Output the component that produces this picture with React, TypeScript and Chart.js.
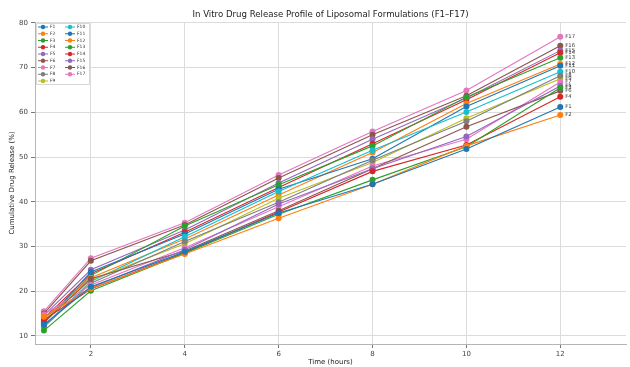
import React, { useEffect, useRef } from "react";
import { Chart, registerables } from "chart.js";

Chart.register(...registerables);

const times = [1, 2, 4, 6, 8, 10, 12];
const xTicks = [2, 4, 6, 8, 10, 12];
const yTicks = [10, 20, 30, 40, 50, 60, 70, 80];
const names = ["F1","F2","F3","F4","F5","F6","F7","F8","F9","F10","F11","F12","F13","F14","F15","F16","F17"];
const colors = ["#1f77b4","#ff7f0e","#2ca02c","#d62728","#9467bd","#8c564b","#e377c2","#7f7f7f","#bcbd22","#17becf","#1f77b4","#ff7f0e","#2ca02c","#d62728","#9467bd","#8c564b","#e377c2"];

const F1 = [12.5, 21.0, 28.8, 37.5, 43.9, 51.8, 61.2];
const F2 = [14.3, 20.6, 28.3, 36.3, 43.9, 52.5, 59.4];
const F3 = [11.2, 20.1, 28.5, 37.2, 44.9, 52.3, 65.5];
const F4 = [13.6, 20.5, 28.6, 37.7, 46.8, 52.7, 63.5];
const F5 = [14.2, 20.8, 29.3, 39.5, 47.4, 54.6, 65.9];
const F6 = [13.0, 22.8, 29.0, 38.0, 47.4, 56.8, 64.8];
const F7 = [14.8, 21.4, 29.7, 38.9, 48.0, 54.0, 66.8];
const F8 = [12.0, 21.8, 31.1, 39.9, 49.3, 58.0, 68.2];
const F9 = [13.5, 22.5, 30.6, 40.8, 48.8, 58.7, 67.5];
const F10 = [12.3, 22.2, 32.2, 42.3, 51.5, 60.1, 69.1];
const F11 = [12.8, 24.3, 32.8, 42.8, 49.6, 61.3, 70.4];
const F12 = [13.8, 23.0, 31.7, 41.5, 51.0, 62.0, 70.8];
const F13 = [13.2, 23.5, 34.6, 43.8, 52.5, 63.4, 72.2];
const F14 = [14.0, 23.9, 33.2, 43.2, 53.0, 62.8, 73.3];
const F15 = [14.6, 24.8, 33.7, 44.2, 54.0, 63.2, 73.8];
const F16 = [15.0, 26.8, 34.8, 45.3, 55.0, 63.7, 74.9];
const F17 = [15.5, 27.4, 35.3, 46.0, 55.7, 64.9, 76.9];

const series = [F1, F2, F3, F4, F5, F6, F7, F8, F9, F10, F11, F12, F13, F14, F15, F16, F17];

const FONT = "'DejaVu Sans', sans-serif";

const overlay = {
  id: "overlay",
  afterDraw(chart: any) {
    const ctx = chart.ctx;
    const area = chart.chartArea;
    ctx.save();
    ctx.fillStyle = "#222";
    ctx.font = `8.6px ${FONT}`;
    ctx.textAlign = "center";
    ctx.textBaseline = "alphabetic";
    ctx.fillText("In Vitro Drug Release Profile of Liposomal Formulations (F1\u2013F17)", (area.left + area.right) / 2, 17);
    ctx.font = `7px ${FONT}`;
    ctx.fillText("Time (hours)", (area.left + area.right) / 2, 364);
    ctx.save();
    ctx.translate(12, (area.top + area.bottom) / 2);
    ctx.rotate(-Math.PI / 2);
    ctx.textBaseline = "middle";
    ctx.fillText("Cumulative Drug Release (%)", 0, 0);
    ctx.restore();
    ctx.font = `5.3px ${FONT}`;
    ctx.textAlign = "left";
    ctx.textBaseline = "middle";
    ctx.fillStyle = "#333";
    chart.data.datasets.forEach((ds: any, i: number) => {
      const meta = chart.getDatasetMeta(i);
      const pt = meta.data[meta.data.length - 1];
      ctx.fillText(ds.label, pt.x + 5, pt.y);
    });
    const bx = 36, by = 23, bw = 53, bh = 61;
    ctx.fillStyle = "rgba(255,255,255,0.85)";
    ctx.strokeStyle = "#d8d8d8";
    ctx.lineWidth = 1;
    ctx.beginPath();
    ctx.rect(bx + 0.5, by + 0.5, bw, bh);
    ctx.fill();
    ctx.stroke();
    chart.data.datasets.forEach((ds: any, i: number) => {
      const col = i < 9 ? 0 : 1;
      const row = i < 9 ? i : i - 9;
      const mx = col === 0 ? 43 : 70;
      const y = 27 + row * 6.75;
      ctx.strokeStyle = ds.borderColor;
      ctx.lineWidth = 1;
      ctx.beginPath();
      ctx.moveTo(mx - 5, y);
      ctx.lineTo(mx + 5, y);
      ctx.stroke();
      ctx.fillStyle = ds.borderColor;
      ctx.beginPath();
      ctx.arc(mx, y, 2.2, 0, Math.PI * 2);
      ctx.fill();
      ctx.fillStyle = "#333";
      ctx.font = `4.5px ${FONT}`;
      ctx.fillText(ds.label, mx + 7, y);
    });
    ctx.restore();
  },
};

export default function App() {
  const ref = useRef<HTMLCanvasElement | null>(null);
  useEffect(() => {
    document.body.style.margin = "0";
    const canvas = ref.current!;
    const chart = new Chart(canvas, {
      type: "line",
      data: {
        datasets: series.map((vals, i) => ({
          label: names[i],
          data: times.map((t, j) => ({ x: t, y: vals[j] })),
          borderColor: colors[i],
          backgroundColor: colors[i],
          borderWidth: 1.1,
          pointRadius: 3,
          pointBorderWidth: 0,
          pointBackgroundColor: colors[i],
          fill: false,
          tension: 0,
        })),
      },
      options: {
        animation: false,
        responsive: false,
        events: [],
        layout: { padding: { top: 22, right: 2, left: 0, bottom: 0 } },
        plugins: { legend: { display: false }, title: { display: false }, tooltip: { enabled: false } },
        scales: {
          x: {
            type: "linear",
            min: 0.81,
            max: 13.4,
            afterBuildTicks: (s: any) => { s.ticks = xTicks.map((v) => ({ value: v })); },
            afterFit: (s: any) => { s.height = 23; },
            grid: { color: "#dcdcdc", tickLength: 4, tickColor: "#777" },
            border: { color: "#b5b5b5" },
            ticks: { font: { family: FONT, size: 7 }, color: "#444", padding: 2, maxRotation: 0 },
          },
          y: {
            type: "linear",
            min: 8.2,
            max: 80.2,
            afterBuildTicks: (s: any) => { s.ticks = yTicks.map((v) => ({ value: v })); },
            afterFit: (s: any) => { s.width = 35; },
            grid: { color: "#dcdcdc", tickLength: 4, tickColor: "#777" },
            border: { color: "#b5b5b5" },
            ticks: { font: { family: FONT, size: 7 }, color: "#444", padding: 3 },
          },
        },
      },
      plugins: [overlay],
    } as any);
    return () => chart.destroy();
  }, []);
  return <canvas ref={ref} width={630} height={367} style={{ display: "block" }} />;
}
